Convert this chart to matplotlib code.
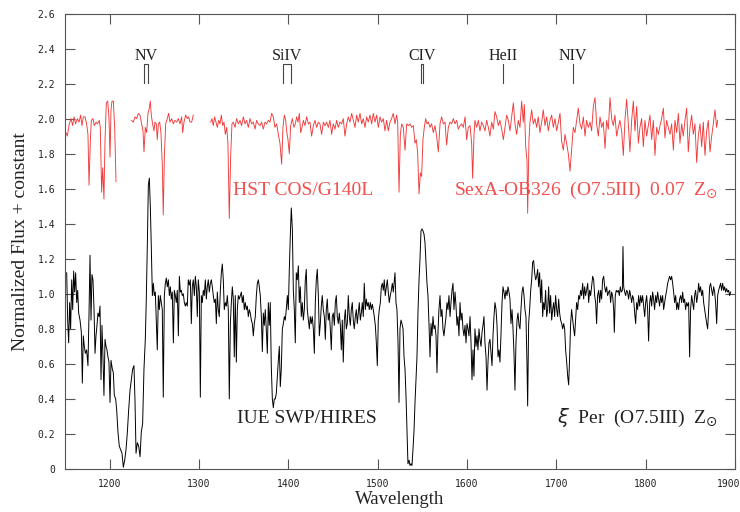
import matplotlib
matplotlib.use("Agg")
import matplotlib.pyplot as plt
from matplotlib.transforms import ScaledTranslation

# ---------------- data ----------------
# HST COS/G140L spectrum of SexA-OB326 (offset +1), three segments
hst_wl_1 = [1151.1,1152.6,1154.8,1156.7,1158.6,1160.1,1161.9,1163.8,1165.7,1167.5,
            1169.0,1170.5,1172.4,1174.2,1175.7,1176.9,1178.4,1179.5,1181.3,1182.8,
            1184.7,1186.2,1188.4,1189.5,1191.0,1192.2,1193.6,1194.8,1196.3,1197.8,
            1199.2,1200.4,1201.5,1202.6,1204.1,1205.6,1207.1]
hst_fx_1 = [1.92,1.90,1.97,2.00,1.96,2.01,1.97,2.00,1.98,2.02,
            1.96,2.01,2.01,1.97,1.91,1.62,1.88,1.99,2.00,1.96,
            1.98,1.97,1.99,1.95,1.58,1.72,1.54,1.88,2.09,2.10,
            2.01,1.78,2.05,2.10,2.10,1.95,1.64]

hst_wl_2 = [1224.6,1226.5,1228.3,1230.2,1232.1,1233.9,1235.8,1237.3,1238.4,1239.9,
            1241.4,1242.9,1244.4,1245.5,1246.6,1248.1,1249.6,1250.7,1252.2,1253.3,
            1254.5,1256.0,1257.4,1258.9,1260.0,1261.2,1262.7,1264.5,1266.0,1267.5,
            1269.4,1271.3,1273.1,1275.0,1276.9,1278.7,1280.6,1281.7,1283.2,1285.1,
            1286.9,1288.4,1289.9,1291.8,1293.6]
hst_fx_2 = [1.99,1.98,2.01,2.00,2.03,2.02,1.97,1.93,1.81,1.95,
            1.92,2.03,2.06,2.10,2.02,1.97,1.93,1.98,1.97,1.88,
            1.97,1.98,1.92,1.74,1.45,1.78,1.97,2.00,2.03,1.98,
            2.00,1.97,1.99,1.98,2.00,1.97,2.01,1.92,1.98,2.02,
            2.00,2.01,1.98,1.98,2.02]

hst_wl_3 = [1313.0,1314.5,1316.0,1317.5,1319.0,1320.5,1322.0,1323.5,1325.0,1326.5,
            1328.0,1329.5,1331.0,1332.4,1333.9,1335.4,1336.9,1338.4,
            1340.3,1342.1,1344.0,1345.9,1347.7,1349.6,1351.5,1353.3,1355.2,1357.1,
            1358.9,1360.8,1362.7,1364.5,1366.4,1368.3,1370.1,1372.0,1373.9,1375.7,
            1377.6,1379.5,1381.3,1383.2,1385.0,1386.9,1388.8,1390.6,1392.5,
            1394.0,1395.5,1397.0,1398.1,1399.6,1401.1,1402.6,
            1404.5,1406.3,1407.8,1409.3,1410.8,1412.3,1413.8,1415.3,1416.8,
            1418.6,1420.5,1422.4,1424.2,1426.1,1428.0,1429.8,1431.7,1433.6,1435.4,
            1437.3,1439.2,1441.0,1442.9,1444.8,1446.6,1448.5,1450.3,1452.2,1454.1,
            1455.9,1457.8,1459.7,1461.5,1463.4,1465.3,1467.1,1469.0,1470.9,1472.7,
            1474.6,1476.5,1478.3,1480.2,1482.1,1483.9,1485.8,1487.7,1489.5,1491.4,
            1493.3,1495.1,1497.0,1498.9,1500.7,1502.6,1504.4,1506.3,1508.2,1510.0,
            1511.9,1513.8,1515.6,1517.5,1519.4,1521.2,
            1522.4,1523.9,1525.4,1526.9,
            1528.7,1530.6,1532.5,1534.3,1536.2,1538.1,1539.9,1541.8,
            1543.3,1544.8,1546.3,1547.8,1549.2,1550.7,1552.2,1553.7,1555.2,1556.7,
            1558.6,1560.4,1562.3,1564.2,1566.0,1567.9,1569.8,1571.6,1573.5,1575.4,
            1577.2,1579.1,1580.9,1582.8,1584.7,1586.6,1588.4,1590.3,1592.2,1594.0,
            1595.9,1597.8,1599.6,1601.5,1603.4,1605.2,
            1606.3,1607.8,1608.9,
            1610.8,1612.7,1614.5,1616.4,1618.3,1620.1,1622.0,1623.9,1625.7,1627.6,
            1629.5,1631.3,1633.2,1635.1,1636.9,1638.8,1640.7,1642.5,1644.4,1646.3,
            1648.1,1650.0,1651.9,1653.7,1655.6,1657.4,1659.3,1661.2,1663.0,
            1664.2,1665.7,1667.2,1667.9,1669.4,1670.5,
            1672.4,1674.2,1676.1,1678.0,1679.8,1681.7,1683.6,1685.4,1687.3,1689.2,
            1691.0,1692.9,1694.8,1696.6,1698.5,1700.4,1702.2,1704.1,1705.9,1707.8,
            1709.7,1711.5,1713.4,1715.3,1717.1,1719.0,1720.9,1722.7,1724.6,1726.5,
            1728.3,1730.2,1732.1,1733.9,1735.8,1737.7,1739.5,1741.4,1743.3,1745.1,
            1747.0,1748.9,1750.7,1752.6,1754.5,1756.3,1758.2,1760.1,1761.9,1763.8,
            1765.6,1767.5,1769.4,1771.2,1773.1,1775.0,1776.8,1778.7,1780.6,1782.4,
            1784.3,1786.2,1788.0,1789.9,1791.8,1793.6,1795.5,1797.4,1799.2,1801.1,
            1803.0,1804.8,1806.7,1808.6,1810.4,1812.3,1814.2,1816.0,1817.9,1819.8,
            1821.6,1823.5,1825.4,1827.2,1829.1,1831.0,1832.8,1834.7,1836.6,1838.4,
            1840.3,1842.1,1844.0,1845.9,1847.7,1849.6,1851.5,1853.3,1855.2,1857.1,
            1858.9,1860.8,1862.7,1864.5,1866.4,1868.3,1870.1,1872.0,1873.9,1875.7,
            1877.6,1879.4,1880.6]
hst_fx_3 = [1.98,2.00,1.96,2.01,1.98,1.95,1.99,1.97,2.02,1.96,
            1.98,1.91,1.95,1.86,1.43,1.78,1.97,1.98,
            1.95,2.00,1.97,1.99,1.96,2.01,1.97,1.99,1.95,2.00,
            1.97,1.98,1.94,1.99,1.97,1.96,1.98,1.94,1.98,1.97,
            1.99,1.98,2.03,2.01,1.95,1.97,1.91,1.86,1.74,
            1.95,2.02,1.99,1.93,1.88,1.80,1.96,
            2.00,1.95,1.97,2.01,1.98,2.03,1.92,1.95,1.99,
            1.96,2.01,1.97,1.98,1.90,1.96,1.99,1.95,1.98,1.97,
            1.91,1.98,1.96,1.98,1.95,1.99,1.91,1.97,1.94,1.99,
            1.95,1.98,1.97,2.00,1.90,1.97,2.01,1.98,2.03,1.99,
            1.95,2.02,1.98,2.03,1.97,2.00,1.95,2.01,1.98,2.02,
            1.97,2.03,1.98,2.02,1.95,2.01,1.98,2.00,1.93,1.99,
            1.93,1.98,2.00,2.03,1.97,2.02,
            1.98,1.58,1.91,1.97,
            1.95,1.82,1.97,1.96,1.97,1.95,1.96,1.86,
            1.88,1.80,1.57,1.69,1.67,1.88,1.95,2.00,1.97,1.98,
            1.95,1.97,1.92,1.96,1.90,1.81,1.97,2.01,1.97,1.98,
            1.85,1.95,1.98,1.97,2.00,1.97,1.99,1.94,1.96,1.97,
            1.95,2.01,1.88,1.95,1.96,1.86,
            1.66,1.90,1.99,
            1.95,1.99,1.93,1.98,1.96,1.93,1.99,1.95,1.90,1.98,
            1.94,2.04,2.01,1.96,1.99,1.94,1.88,1.95,2.02,1.99,
            1.93,2.01,2.09,1.97,1.91,1.99,1.95,2.10,1.98,
            2.08,1.84,1.76,1.46,1.88,1.98,
            2.05,1.97,2.00,1.95,2.01,1.92,1.98,2.05,1.96,2.01,
            1.93,1.99,2.02,1.95,2.00,1.93,1.98,2.03,1.87,1.82,
            1.91,1.86,1.80,1.70,1.82,1.95,1.92,1.99,2.06,1.97,
            1.94,2.01,1.90,1.99,1.95,1.98,1.93,2.07,2.12,1.97,
            1.90,2.01,1.95,1.98,1.83,1.99,1.94,2.12,2.00,1.96,
            2.02,1.90,1.95,1.99,1.93,1.79,1.99,2.11,1.97,1.81,
            1.99,2.10,1.93,2.07,1.86,1.95,2.00,1.84,1.99,1.90,
            1.96,2.02,1.88,1.99,1.79,1.95,1.91,1.96,2.00,2.06,
            1.89,1.99,1.95,1.91,1.97,1.82,1.99,1.92,2.03,1.86,
            1.97,1.90,1.99,2.06,1.81,1.95,2.02,1.91,1.97,1.75,
            1.90,1.97,1.84,1.98,1.79,1.93,1.99,1.81,1.90,1.97,
            2.05,1.95,1.99]

# IUE SWP/HIRES spectrum of xi Per
iue_wl = [1151.9,1153.0,1154.1,1155.2,1156.3,1157.5,1158.6,1159.7,1160.8,1161.9,
          1163.1,1164.2,1165.3,1166.8,1168.3,1169.4,1170.5,1171.6,1172.8,1174.2,
          1175.7,1176.9,1178.0,1179.1,1180.2,1181.3,1182.5,1183.6,1184.7,1185.8,
          1186.9,1188.1,1189.2,1190.3,1191.4,1192.5,1193.6,1194.8,1195.9,1197.0,
          1198.1,1199.2,1200.4,1201.5,1203.0,1204.1,1205.2,1206.7,1207.8,1209.3,
          1210.8,1212.3,1213.8,1215.3,1216.8,1218.3,1219.8,1221.3,1222.8,1224.2,
          1225.7,1227.2,1228.4,1229.5,1231.0,1232.5,1234.0,1235.4,1236.9,1238.4,
          1239.9,1241.0,1242.2,1243.3,1244.4,1245.5,1246.6,1247.8,1248.9,1250.0,
          1251.1,1252.2,1253.3,1254.5,1255.6,1256.7,1257.8,1258.9,1260.0,1261.2,
          1262.3,1263.4,1264.5,1265.7,1266.8,1267.9,1269.0,1270.1,1271.3,1272.4,
          1273.5,1274.6,1275.7,1276.9,1278.0,1279.1,1280.2,1281.3,1282.4,1283.6,
          1284.7,1285.8,1286.9,1288.0,1289.2,1290.3,1291.4,1292.5,1293.6,1294.8,
          1295.9,1297.0,1298.1,1299.2,1300.4,1301.5,1302.6,1303.7,1304.8,1305.9,
          1307.1,1308.2,1309.3,1310.4,1311.5,1312.7,1313.8,1314.9,1316.0,1317.1,
          1318.3,1319.4,1320.5,1321.6,1322.7,1323.9,1325.0,1326.1,1327.2,1328.3,
          1329.5,1330.6,1331.7,1332.8,1333.9,1335.1,1336.2,1337.3,1338.4,1339.5,
          1340.6,1341.8,1342.9,1344.0,1345.1,1346.2,1347.4,1348.5,1349.6,1350.7,
          1351.8,1353.0,1354.1,1355.2,1356.3,1357.4,1358.6,1359.7,1360.8,1361.9,
          1363.0,1364.2,1365.3,1366.4,1367.5,1368.6,1369.8,1370.9,1372.0,1373.1,
          1374.2,1375.3,1376.5,1377.6,1378.7,1379.8,1380.9,1382.1,1383.2,1384.3,
          1385.4,1386.5,1387.7,1388.8,1389.9,1391.0,1392.1,1393.3,1394.4,1395.5,
          1396.6,1397.7,1398.9,1400.0,1401.1,1402.2,1403.3,1404.5,1405.6,1406.7,
          1407.8,1408.9,1410.0,1411.2,1412.3,1413.4,1414.5,1415.6,1416.8,1417.9,
          1419.0,1420.1,1421.2,1422.4,1423.5,1424.6,1425.7,1426.8,1428.0,1429.1,
          1430.2,1431.3,1432.4,1433.6,1434.7,1435.8,1436.9,1438.0,1439.1,1440.3,
          1441.4,1442.5,1443.6,1444.7,1445.9,1447.0,1448.1,1449.2,1450.3,1451.5,
          1452.6,1453.7,1454.8,1455.9,1457.1,1458.2,1459.3,1460.4,1461.5,1462.7,
          1463.8,1464.9,1466.0,1467.1,1468.3,1469.4,1470.5,1471.6,1472.7,1473.8,
          1475.0,1476.1,1477.2,1478.3,1479.4,1480.6,1481.7,1482.8,1483.9,1485.0,
          1486.2,1487.3,1488.4,1489.5,1490.6,1491.8,1492.9,1494.0,1495.1,1496.2,
          1497.4,1498.5,1499.6,1500.7,1501.8,1503.0,1504.1,1505.2,1506.3,1507.4,
          1508.5,1509.7,1510.8,1511.9,1513.0,1514.1,1515.3,1516.4,1517.5,1519.4,
          1520.5,1521.6,1522.8,1523.9,1525.0,1526.1,1527.2,1528.4,1529.5,1530.6,
          1531.7,1532.8,1533.9,1535.1,1536.2,1537.3,1538.4,1539.5,1540.7,1541.8,
          1542.9,1544.0,1545.1,1546.3,1547.4,1548.5,1549.6,1550.7,1551.9,1553.0,
          1554.1,1555.2,1556.3,1557.5,1558.6,1559.7,1560.8,1561.9,1563.1,1564.2,
          1565.3,1566.4,1567.5,1568.6,1569.8,1570.9,1572.0,1573.1,1574.2,1575.4,
          1576.5,1577.6,1578.7,1579.8,1581.0,1582.1,1583.2,1584.3,1585.4,1586.6,
          1587.7,1588.8,1589.9,1591.0,1592.2,1593.3,1594.4,1595.5,1596.6,1597.8,
          1598.9,1600.0,1601.1,1602.2,1603.4,1604.5,1605.6,1606.7,1607.8,1608.9,
          1610.1,1611.2,1612.3,1613.4,1614.5,1615.7,1616.8,1617.9,1619.0,1620.1,
          1621.3,1622.4,1623.5,1624.6,1625.7,1626.9,1628.0,1629.1,1630.2,1631.3,
          1632.5,1633.6,1634.7,1635.8,1636.9,1638.0,1639.2,1640.3,1641.4,1642.5,
          1643.6,1644.8,1645.9,1647.0,1648.1,1649.2,1650.4,1651.5,1652.6,1653.7,
          1654.8,1656.0,1657.1,1658.2,1659.3,1660.4,1661.6,1662.7,1663.8,1664.9,
          1666.0,1667.1,1667.9,1669.0,1670.1,1671.3,1672.4,1673.5,1674.6,1675.7,
          1676.9,1678.0,1679.1,1680.2,1681.3,1682.5,1683.6,1684.7,1685.8,1686.9,
          1688.0,1689.2,1690.3,1691.4,1692.5,1693.6,1694.8,1695.9,1697.0,1698.1,
          1699.2,1700.4,1701.5,1702.6,1703.7,1704.8,1706.0,1707.1,1708.2,1709.3,
          1710.4,1711.6,1712.7,1713.8,1714.9,1716.0,1717.1,1718.3,1719.4,1720.5,
          1721.6,1722.7,1723.9,1725.0,1726.1,1727.2,1728.3,1729.5,1730.6,1731.7,
          1732.8,1733.9,1735.1,1736.2,1737.3,1738.4,1739.5,1740.7,1741.8,1742.9,
          1744.0,1745.1,1746.2,1747.4,1748.5,1749.6,1750.7,1751.8,1753.0,1754.1,
          1755.2,1756.3,1757.4,1758.6,1759.7,1760.8,1761.9,1763.0,1764.2,1764.9,
          1766.0,1767.1,1768.3,1769.4,1770.5,1771.6,1772.7,1773.9,1774.6,1775.4,
          1776.5,1777.6,1778.7,1779.8,1780.9,1782.1,1783.2,1784.3,1785.4,1786.5,
          1787.7,1788.8,1789.9,1791.0,1792.1,1793.3,1794.4,1795.5,1796.6,1797.7,
          1798.9,1800.0,1801.1,1802.2,1803.3,1804.5,1805.6,1806.7,1807.8,1808.9,
          1810.0,1811.2,1812.3,1813.4,1814.5,1815.6,1816.8,1817.9,1819.0,1820.1,
          1821.2,1822.4,1823.5,1824.6,1825.7,1826.8,1828.0,1829.1,1830.2,1831.3,
          1832.4,1833.6,1834.7,1835.8,1836.9,1838.0,1839.2,1840.3,1841.4,1842.5,
          1843.6,1844.7,1845.9,1847.0,1848.1,1849.2,1850.3,1851.5,1852.6,1853.7,
          1854.8,1855.9,1857.1,1858.2,1859.3,1860.4,1861.5,1862.7,1863.8,1864.9,
          1866.0,1867.1,1868.3,1869.4,1870.5,1871.6,1872.7,1873.9,1875.0,1876.1,
          1877.2,1878.3,1879.5,1880.6,1881.7,1882.8,1883.9,1885.0,1886.2,1887.3,
          1888.4,1889.5,1890.6,1891.8,1892.9,1894.0,1895.1]
iue_fx = [1.12,0.85,0.72,0.95,0.80,1.08,0.91,1.13,1.01,1.12,
          0.95,1.02,0.89,0.85,0.78,0.49,0.76,0.70,0.66,0.68,
          0.59,0.89,1.22,0.85,1.11,1.08,0.91,0.66,0.76,0.82,
          0.89,0.87,0.93,0.51,0.82,0.64,0.42,0.74,0.70,0.68,
          0.64,0.61,0.38,0.62,0.57,0.55,0.42,0.40,0.34,0.21,
          0.13,0.11,0.09,0.01,0.05,0.11,0.21,0.34,0.45,0.51,
          0.57,0.59,0.38,0.09,0.15,0.13,0.07,0.21,0.26,0.57,
          0.74,0.97,1.29,1.62,1.66,1.50,1.27,0.99,1.06,0.99,
          1.01,0.85,0.68,0.99,0.91,0.99,0.95,0.91,0.41,0.99,
          1.06,1.09,1.04,1.08,0.99,1.04,0.97,1.01,0.72,1.02,
          0.99,0.95,1.02,0.76,1.10,1.01,1.02,0.99,1.00,0.95,
          0.93,0.95,0.93,1.08,1.05,1.08,0.83,1.04,1.08,0.99,
          1.10,1.04,0.87,1.08,1.01,0.41,0.99,0.95,1.02,0.99,
          1.08,0.97,1.04,1.08,1.01,1.06,1.08,1.04,0.99,0.95,
          0.97,0.83,1.01,0.91,0.87,1.02,1.12,1.17,1.08,0.91,
          0.95,0.93,0.99,0.91,0.40,0.83,0.95,1.04,0.97,0.64,
          0.99,0.61,0.91,0.99,0.97,0.99,1.01,0.95,0.99,0.91,
          0.95,0.91,0.93,0.87,0.91,0.89,0.85,0.83,0.76,0.83,
          0.87,0.99,1.06,1.08,1.04,0.99,0.87,0.67,0.89,0.82,
          0.91,0.80,0.66,0.95,0.82,0.95,0.59,0.40,0.35,0.40,
          0.40,0.43,0.53,0.62,0.70,0.47,0.57,0.80,0.83,0.87,
          0.85,0.91,0.99,0.91,1.14,1.33,1.49,1.37,1.02,0.91,
          0.72,1.12,1.08,1.16,0.95,1.04,0.87,0.95,0.85,0.91,
          1.08,1.14,0.91,0.85,0.80,0.87,0.83,0.87,0.80,0.66,
          0.95,1.08,1.14,0.99,0.76,0.83,0.93,0.99,0.91,0.87,
          0.74,0.91,0.97,0.85,0.89,0.80,0.68,0.87,0.89,0.82,
          0.95,0.99,0.87,0.83,0.89,0.82,0.68,0.85,0.61,0.85,
          0.91,0.80,0.83,0.99,0.87,0.82,0.91,0.95,0.85,0.80,
          0.87,0.91,0.83,0.89,0.95,0.85,0.89,0.95,0.87,1.06,
          0.91,0.97,0.93,0.95,0.91,0.95,0.91,0.94,0.91,0.87,
          0.82,0.72,0.59,0.85,0.91,0.95,1.04,1.06,1.02,1.08,
          0.99,1.04,1.08,1.01,0.95,0.99,1.02,1.06,1.01,1.12,
          0.95,0.91,0.72,0.38,0.80,0.85,0.83,0.80,0.64,0.57,
          0.42,0.22,0.03,0.05,0.02,0.03,0.02,0.11,0.22,0.38,
          0.51,0.64,0.89,1.08,1.20,1.36,1.37,1.36,1.34,1.29,
          1.18,1.06,0.99,0.82,0.64,0.83,0.76,0.87,0.80,0.82,
          0.76,0.55,0.78,0.91,0.99,0.87,0.91,0.80,0.76,0.82,
          0.87,0.95,0.91,0.99,0.87,0.95,1.02,1.06,0.91,1.01,
          0.93,0.82,0.87,0.76,0.95,0.85,0.89,0.80,0.76,0.82,
          0.72,0.83,0.80,0.76,0.87,0.72,0.51,0.68,0.53,0.80,
          0.70,0.76,0.68,0.80,0.74,0.70,0.78,0.82,0.87,0.72,
          0.64,0.45,0.61,0.72,0.74,0.66,0.59,0.76,0.87,0.95,
          0.91,0.82,0.64,0.68,0.61,0.76,0.95,1.04,1.01,0.97,
          1.02,0.99,1.04,1.01,0.97,0.83,0.91,0.80,0.66,0.45,
          0.72,0.85,0.89,0.82,0.80,0.91,1.01,1.04,0.99,0.91,
          0.87,0.61,0.36,0.83,0.91,1.02,1.08,1.18,1.19,1.12,
          1.08,1.10,1.14,1.04,1.12,0.95,1.08,0.87,0.95,0.91,
          1.02,0.87,0.91,1.04,0.89,0.99,0.85,0.91,0.95,0.87,
          0.99,0.91,0.87,0.97,0.89,0.85,0.83,0.80,0.83,0.80,
          0.68,0.61,0.53,0.48,0.64,0.83,0.91,0.85,0.80,0.76,
          0.85,0.95,0.91,0.99,0.97,1.02,0.99,1.06,0.97,1.04,
          0.99,1.02,1.06,0.95,1.02,0.99,1.04,1.10,1.08,0.99,
          0.95,0.83,0.99,1.02,0.95,1.02,0.97,1.08,1.10,1.04,
          1.01,1.04,0.99,1.01,1.02,0.95,1.01,0.99,0.91,0.78,
          0.99,1.02,1.01,1.02,0.99,1.04,1.01,1.02,1.27,1.04,
          1.01,0.99,1.02,1.01,0.97,1.02,0.99,0.95,0.99,0.97,
          0.89,0.83,0.95,0.91,0.99,0.93,0.99,0.95,0.99,0.93,
          0.87,0.95,0.99,0.91,0.73,0.95,0.99,0.93,1.01,0.97,
          0.91,0.99,0.95,1.01,0.97,0.93,0.99,0.95,0.99,0.91,
          0.95,0.99,1.02,1.06,1.08,1.10,1.08,1.10,1.06,1.01,
          0.95,0.99,0.91,0.95,0.91,0.97,0.99,0.95,1.01,0.95,
          0.97,0.91,0.95,0.93,0.95,0.64,0.91,0.99,0.95,0.91,
          0.99,1.02,0.95,0.99,1.06,1.01,1.04,0.99,1.02,0.95,
          0.91,0.87,0.83,0.80,0.91,1.04,1.06,1.02,0.99,1.04,
          1.01,0.95,0.83,0.99,1.02,1.04,1.06,1.02,1.06,1.02,
          1.04,1.01,1.03,1.01,1.02,0.99,1.01]

# line identifications
ion_names = ["NV", "SiIV", "CIV", "HeII", "NIV"]
ion_wl = [[1238.8, 1242.8], [1393.8, 1402.8], [1548.2, 1550.8], [1640.4], [1718.6]]

x_ticks = [1200, 1300, 1400, 1500, 1600, 1700, 1800, 1900]
y_ticks = [0, 0.2, 0.4, 0.6, 0.8, 1.0, 1.2, 1.4, 1.6, 1.8, 2.0, 2.2, 2.4, 2.6]
y_tick_labels = ["0", "0.2", "0.4", "0.6", "0.8", "1.0", "1.2", "1.4", "1.6",
                 "1.8", "2.0", "2.2", "2.4", "2.6"]

# ---------------- plot ----------------
RED = "#f03a3a"
RED_TXT = "#f0504e"
INK = "#222222"
SERIF = "Liberation Serif"

fig = plt.figure(figsize=(7.4, 5.12), dpi=100)
ax = fig.add_axes([65 / 740, 43 / 512, 670 / 740, 455.5 / 512])

for wl, fx in [(hst_wl_1, hst_fx_1), (hst_wl_2, hst_fx_2), (hst_wl_3, hst_fx_3)]:
    ax.plot(wl, fx, color=RED, lw=0.65)
ax.plot(iue_wl, iue_fx, color="black", lw=0.7)

y_lo, y_hi = 2.205, 2.31
for name, wls in zip(ion_names, ion_wl):
    if len(wls) == 2:
        ax.plot([wls[0], wls[0], wls[1], wls[1]], [y_lo, y_hi, y_hi, y_lo],
                color="#444444", lw=0.8)
    else:
        ax.plot([wls[0], wls[0]], [y_lo, y_hi], color="#444444", lw=0.8)
    ax.text(sum(wls) / len(wls), 2.335, name, ha="center", va="baseline",
            fontsize=11.5, family=SERIF, color=INK)

ax.text(1338.0, 1.566, "HST COS/G140L", ha="left", va="baseline",
        fontsize=14, family=SERIF, color=RED_TXT)
ax.text(1881.0, 1.566, r"SexA-OB326  (O7.5III)  0.07  Z$_{\odot}$", ha="right",
        va="baseline", fontsize=14, family=SERIF, color=RED_TXT)
ax.text(1342.5, 0.263, "IUE SWP/HIRES", ha="left", va="baseline",
        fontsize=14, family=SERIF, color=INK)
ax.text(1880.0, 0.263, r"$\xi$  Per  (O7.5III)  Z$_{\odot}$", ha="right",
        va="baseline", fontsize=14, family=SERIF, color=INK)

ax.set_xlim(1150, 1900)
ax.set_ylim(0, 2.6)
ax.set_xticks(x_ticks)
ax.set_xticklabels([str(t) for t in x_ticks])
ax.set_yticks(y_ticks)
ax.set_yticklabels(y_tick_labels)
ax.tick_params(direction="in", length=7, width=0.8, color="#555555",
               top=True, right=True, labelsize=7, labelcolor=INK)
ax.tick_params(axis="x", pad=7)
ax.tick_params(axis="y", pad=7)
for lab in ax.get_xticklabels() + ax.get_yticklabels():
    lab.set_family("DejaVu Sans Mono")
# keep the last x label inside the canvas
last = ax.get_xticklabels()[-1]
last.set_transform(last.get_transform() + ScaledTranslation(-6 / 100, 0, fig.dpi_scale_trans))
for sp in ax.spines.values():
    sp.set_color("#555555")
    sp.set_linewidth(0.8)

ax.set_xlabel("Wavelength", fontsize=13.5, family=SERIF, color=INK, labelpad=2)
ax.set_ylabel("Normalized Flux + constant", fontsize=14, family=SERIF,
              color=INK, labelpad=6)

fig.savefig("out.png", dpi=100)
